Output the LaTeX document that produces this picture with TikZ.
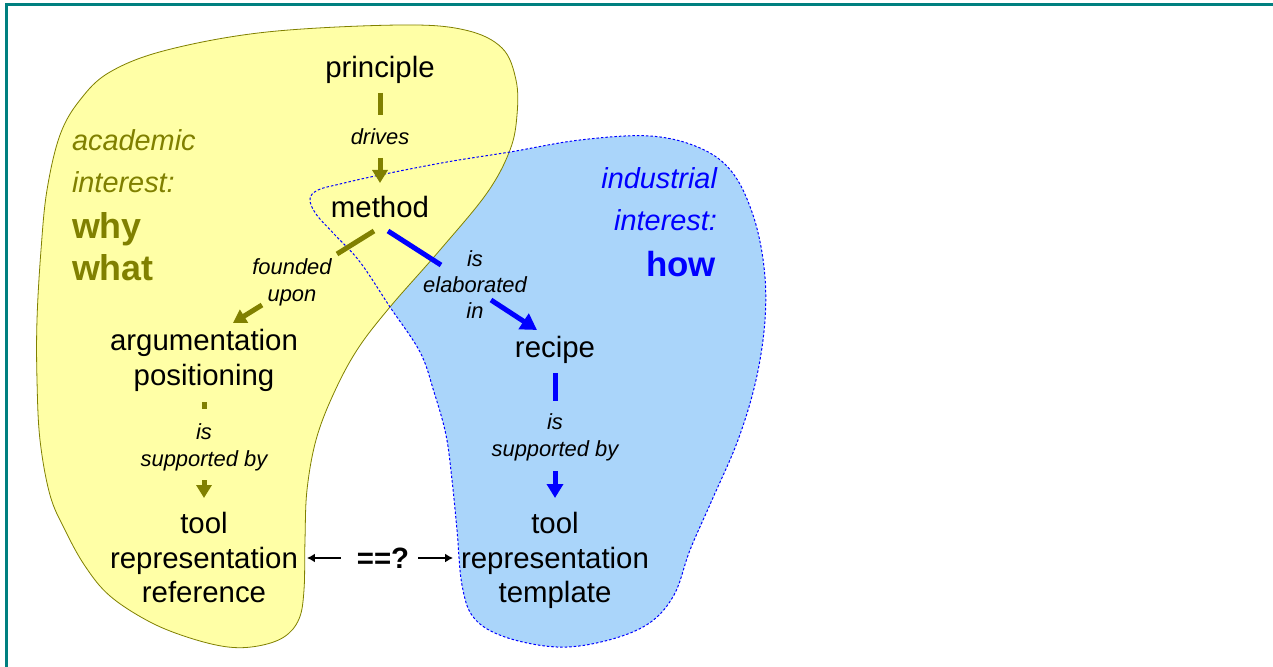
\documentclass[tikz,border=0pt]{standalone}
\usepackage{fontspec}
\setmainfont{Liberation Sans}
\usetikzlibrary{arrows.meta}
\definecolor{yellowfill}{RGB}{255,255,166}
\definecolor{bluefill}{RGB}{170,213,250}
\definecolor{bordteal}{RGB}{0,128,128}
\definecolor{oliv}{RGB}{128,128,0}
\definecolor{blu}{RGB}{0,0,255}
\begin{document}
\begin{tikzpicture}[x=1bp,y=-1bp,
  every node/.style={inner sep=0pt, outer sep=0pt},
  main/.style={font=\fontsize{29.5}{35}\selectfont, align=center},
  lab/.style={font=\fontsize{22}{26.5}\selectfont\itshape, align=center},
  olivetxt/.style={text=oliv, align=left, anchor=west},
  bluetxt/.style={text=blu, align=right, anchor=east},
  obar/.style={draw=oliv, line width=5bp},
  oarr/.style={draw=oliv, line width=5bp, -{Triangle[length=13bp,width=15bp]}},
  bbar/.style={draw=blu, line width=5bp},
  barr/.style={draw=blu, line width=5bp, -{Triangle[length=14bp,width=16bp]}},
  thinarr/.style={draw=black, line width=1.8bp, -{Latex[length=8bp,width=9bp]}},
]
\useasboundingbox (0,0) rectangle (1273,667);
\fill[white] (0,0) rectangle (1273,667);
% blue blob fill
\fill[bluefill] plot[smooth cycle, tension=0.6] coordinates {
 (310,199) (318,190) (340,184) (380,175) (447,162) (510,152) (580,140) (650,136)
 (700,148) (732,172) (753,215) (764,267) (765,320) (756,380) (738,440) (712,500)
 (690,550) (674,595) (648,624) (605,641) (557,647) (505,637) (474,618) (462,585)
 (457,530) (452,480) (446,435) (434,392) (420,352) (390,307) (360,262) (335,235) (316,214)};
% yellow blob
\draw[fill=yellowfill, draw=oliv, line width=0.8bp] plot[smooth cycle, tension=0.6] coordinates {
 (400,25) (465,30) (502,48) (516,80) (517,115) (510,150) (487,193) (440,250) (390,307)
 (357,350) (333,395) (316,440) (307,490) (305,540) (304,590) (299,619) (284,637)
 (258,646) (228,647) (190,638) (150,622) (110,596) (85,566) (65,530) (50,495) (40,440) (37,380)
 (37,320) (41,250) (47,190) (60,135) (80,100) (110,72) (167,50) (267,32)};
% blue blob border
\draw[blu, line width=1bp, dash pattern=on 2.5bp off 2bp] plot[smooth cycle, tension=0.6] coordinates {
 (310,199) (318,190) (340,184) (380,175) (447,162) (510,152) (580,140) (650,136)
 (700,148) (732,172) (753,215) (764,267) (765,320) (756,380) (738,440) (712,500)
 (690,550) (674,595) (648,624) (605,641) (557,647) (505,637) (474,618) (462,585)
 (457,530) (452,480) (446,435) (434,392) (420,352) (390,307) (360,262) (335,235) (316,214)};
% frame
\draw[bordteal, line width=3bp] (6,667) -- (6,4.5) -- (1273,4.5);

% side labels
\node[olivetxt, font=\fontsize{29}{42}\selectfont\itshape] (acad) at (72,161) {academic\\interest:};
\node[olivetxt, font=\fontsize{36}{42}\selectfont\bfseries] (whywhat) at (72,247) {why\\what};
\node[bluetxt, font=\fontsize{29}{42}\selectfont\itshape] (indus) at (717,199) {industrial\\interest:};
\node[bluetxt, font=\fontsize{35}{42}\selectfont\bfseries] (how) at (716,264) {how};

% main nodes
\node[main] (principle) at (380,69.5) {principle};
\node[lab] (drives) at (380,137) {drives};
\node[main] (method) at (380,207) {method};
\node[lab] (founded) at (292,282.5) {founded\\upon};
\node[lab] (elab) at (475,284.5) {is\\elaborated\\in};
\node[main] (argpos) at (204,360.5) {argumentation\\positioning};
\node[lab] (supl) at (204,447.5) {is\\supported by};
\node[main] (tooll) at (204,557.5) {tool\\representation\\reference};
\node[main] (recipe) at (555,350) {recipe};
\node[lab] (supr) at (555,437.5) {is\\supported by};
\node[main] (toolr) at (555,560.5) {tool\\representation\\template};
\node[main, font=\fontsize{29.5}{35}\selectfont\bfseries] (eq) at (383,558) {==?};

% connectors
\draw[obar, shorten <=23.5bp, shorten >=22bp] (principle.center) -- (drives.center);
\draw[oarr, shorten <=21bp, shorten >=24bp] (drives.center) -- (method.center);
\draw[obar] ([shift={(-6,24)}]method.center) -- ([shift={(45,-28.5)}]founded.center);
\draw[oarr] ([shift={(-30,22.5)}]founded.center) -- ([shift={(29,-37.5)}]argpos.center);
\draw[bbar] ([shift={(8,24)}]method.center) -- ([shift={(-34,-19.5)}]elab.center);
\draw[barr, -{Triangle[length=16bp,width=18bp]}] ([shift={(16,15.5)}]elab.center) -- ([shift={(-18,-20)}]recipe.center);
\draw[obar, shorten <=41.5bp, shorten >=38.5bp] (argpos.center) -- (supl.center);
\draw[oarr, shorten <=32.5bp, shorten >=59.5bp] (supl.center) -- (tooll.center);
\draw[bbar, shorten <=23bp, shorten >=36.5bp] (recipe.center) -- (supr.center);
\draw[barr, shorten <=33.5bp, shorten >=62.5bp] (supr.center) -- (toolr.center);
\draw[thinarr, shorten <=16bp, shorten >=9bp] (eq.west) -- (eq.west -| tooll.east);
\draw[thinarr, shorten <=9bp, shorten >=8bp] (eq.east) -- (eq.east -| toolr.west);
\end{tikzpicture}
\end{document}
